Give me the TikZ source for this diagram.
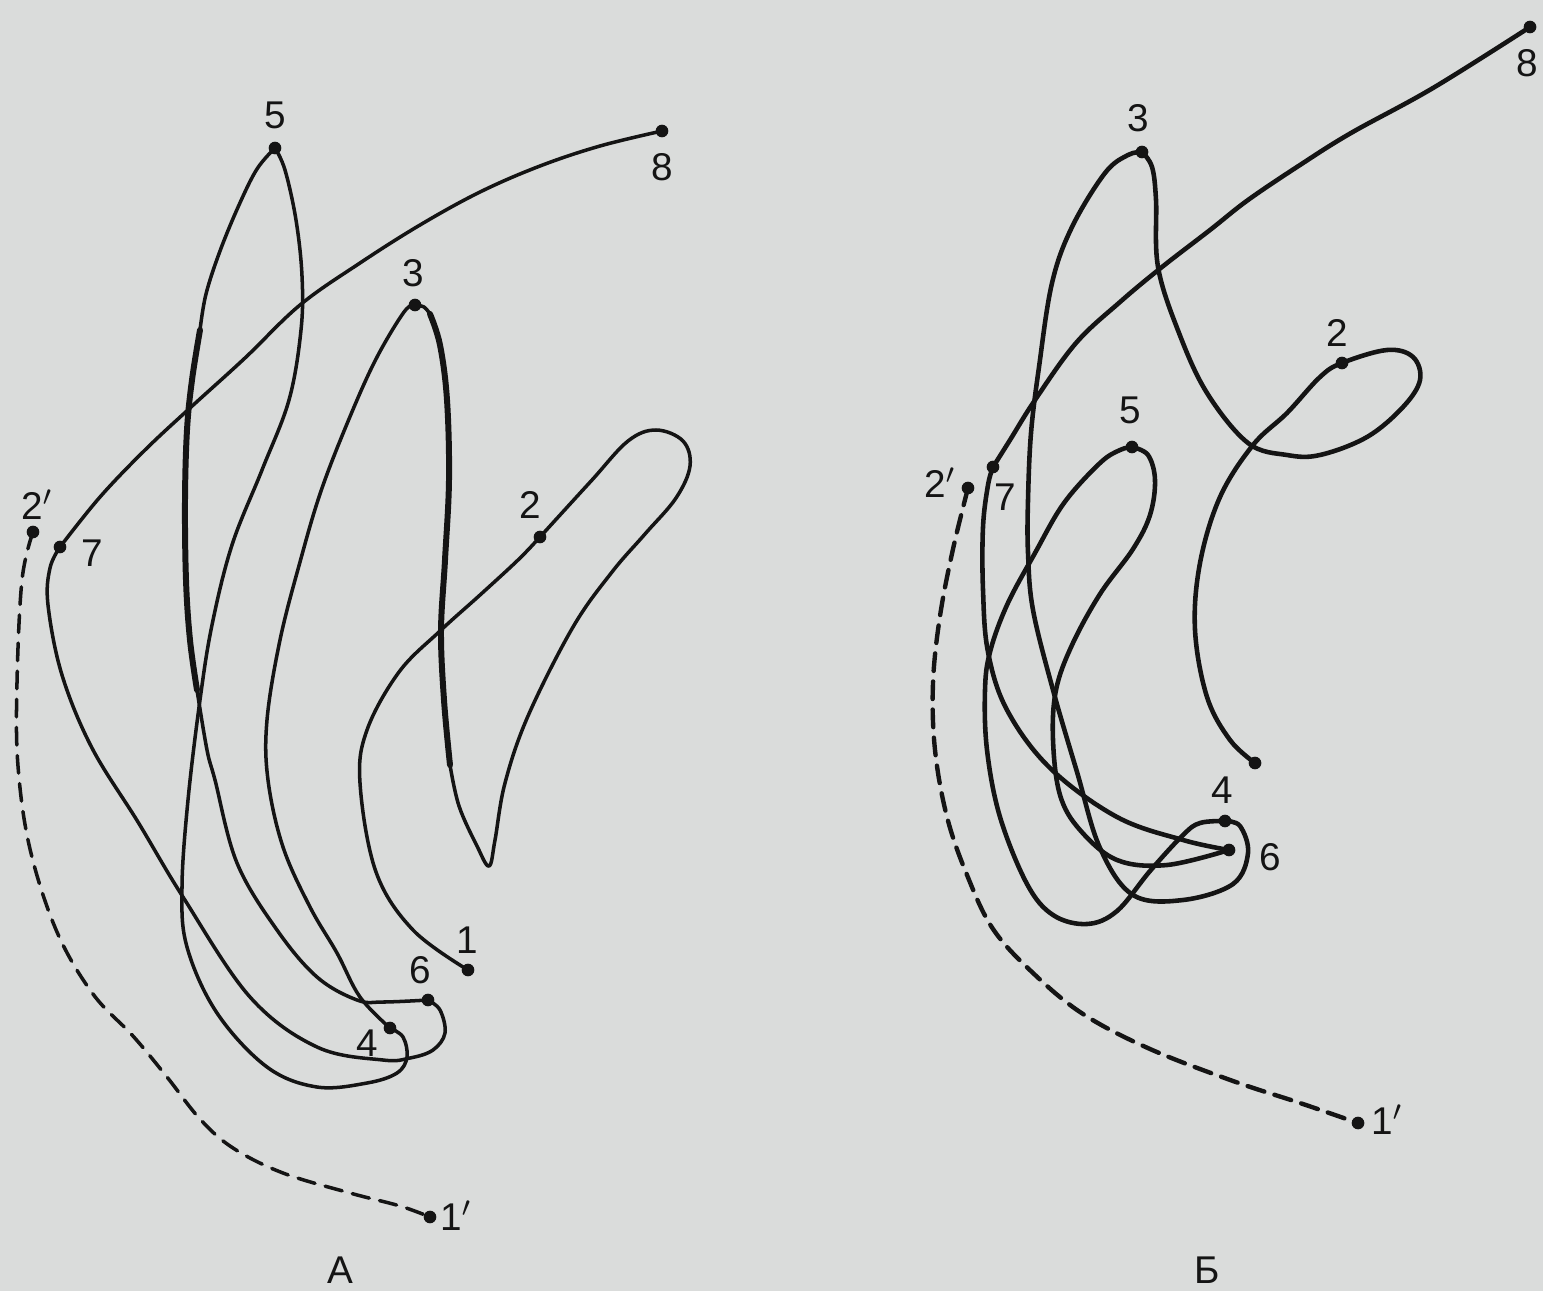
\documentclass[tikz,border=0pt]{standalone}
\usepackage{fontspec}
\setmainfont{Liberation Sans}
\usepackage{xcolor}
\usepackage{tikz}
\usetikzlibrary{positioning}
\definecolor{ink}{HTML}{141414}
\definecolor{paper}{HTML}{DADCDB}
\newcommand{\lblfont}{\fontsize{11}{13}\selectfont}
\tikzset{
  every node/.style={text=ink},
  % dots mark the numbered moments of the trajectory
  dot/.style={circle, fill=ink, inner sep=0pt, minimum size=3.6pt},
  lbl/.style={font=\lblfont, inner sep=0pt},
  trace/.style={line width=1pt, color=ink, line cap=round, line join=round},
  slow/.style={trace, line width=1.7pt},
  traceb/.style={trace, line width=1.3pt},
  prior/.style={trace, dash pattern=on 5pt off 3pt},
}

\begin{document}
\begin{tikzpicture}[x=0.01cm,y=-0.01cm, smooth, tension=0.6]
  \fill[paper] (0,0) rectangle (1543,1291);
  \useasboundingbox (0,0) rectangle (1543,1291);

  % ---------- panel A ----------
  \node[dot] (a1) at (468,970) {};
  \node[dot] (a2) at (540,537) {};
  \node[dot] (a3) at (415,305) {};
  \node[dot] (a4) at (390,1028) {};
  \node[dot] (a5) at (275,148) {};
  \node[dot] (a6) at (428,1000) {};
  \node[dot] (a7) at (60,547) {};
  \node[dot] (a8) at (662,131) {};
  \node[dot] (a2p) at (33,532) {};
  \node[dot] (a1p) at (430,1217) {};

  \node[lbl] (la1) at (467,940) {1};
  \node[lbl] (la2) at (530,505) {2};
  \node[lbl] (la3) at (413,273) {3};
  \node[lbl] (la4) at (367,1043) {4};
  \node[lbl] (la5) at (275,115) {5};
  \node[lbl] (la6) at (420,970) {6};
  \node[lbl] (la7) at (92,553) {7};
  \node[lbl] (la8) at (662,167) {8};
  \node[lbl] (la2p) at (37,505) {2$'$};
  \node[lbl] (la1p) at (456,1216) {1$'$};
  \node[lbl] (capA) at (340,1270) {А};

  % 1 -> 2 -> loop -> 3
  \draw[trace] plot coordinates {(a1.center) (413,930) (376,872) (360,783) (367,730) (399,672) (440,631)
    (480,595) (518,560) (a2.center) (550,526) (592,480) (628,441) (656,430) (683,441) (690,466) (676,498)
    (645,534) (612,572) (573,627) (528,716) (505,783) (495,840) (489,866) (477,846) (459,806) (450,765)};
  \draw[slow] plot coordinates {(450,765) (444,700) (441,631) (445,560) (449,480) (447,400) (440,345) (430,314)};
  \draw[trace] plot coordinates {(430,314) (424,307) (a3.center)};
  % 3 -> 4
  \draw[trace] plot coordinates {(a3.center) (404,312) (376,359) (349,419) (321,491) (300,562) (280,640)
    (267,720) (268,780) (283,847) (310,907) (337,953) (360,997) (a4.center)};
  % 4 -> 5
  \draw[trace] plot coordinates {(a4.center) (403,1037) (407,1057) (397,1073) (367,1083) (317,1087)
    (267,1067) (217,1013) (187,947) (182,887) (188,800) (200,700) (212,625) (232,545) (262,470)
    (289,400) (301,330) (302,276) (296,220) (285,170) (a5.center)};
  % 5 -> 6
  \draw[trace] plot coordinates {(a5.center) (257,169) (239,205) (220,251) (206,294) (200,330)};
  \draw[slow] plot coordinates {(200,330) (192,380) (187,430) (185,500) (186,580) (190,640) (197,690)};
  \draw[trace] plot coordinates {(197,690) (207,750) (215,780) (237,863) (277,930) (317,977) (357,1000)
    (383,1002) (a6.center)};
  % 6 -> 7
  \draw[trace] plot coordinates {(a6.center) (440,1010) (445,1033) (433,1050) (410,1058) (383,1060)
    (317,1047) (250,997) (183,897) (138,822) (92,748) (62,675) (48,605) (50,568) (a7.center)};
  % 7 -> 8
  \draw[trace] plot coordinates {(a7.center) (100,497) (145,450) (190,408) (245,358) (300,305) (360,263)
    (420,225) (480,192) (540,166) (600,146) (a8.center)};
  % 2' -> 1'
  \draw[prior] plot coordinates {(a2p.center) (22,580) (17,683) (18,766) (30,849) (57,932) (93,994)
    (133,1036) (167,1077) (200,1119) (233,1148) (283,1173) (350,1193) (400,1206) (a1p.center)};

  % ---------- panel B ----------
  \node[dot] (b1) at (1255,763) {};
  \node[dot] (b2) at (1342,363) {};
  \node[dot] (b3) at (1142,152) {};
  \node[dot] (b4) at (1225,821) {};
  \node[dot] (b5) at (1132,447) {};
  \node[dot] (b6) at (1229,850) {};
  \node[dot] (b7) at (993,467) {};
  \node[dot] (b8) at (1530,27) {};
  \node[dot] (b2p) at (968,488) {};
  \node[dot] (b1p) at (1358,1123) {};

  \node[lbl] (lb2) at (1337,333) {2};
  \node[lbl] (lb3) at (1138,118) {3};
  \node[lbl] (lb4) at (1222,790) {4};
  \node[lbl] (lb5) at (1130,410) {5};
  \node[lbl] (lb6) at (1270,857) {6};
  \node[lbl] (lb7) at (1005,497) {7};
  \node[lbl] (lb8) at (1527,63) {8};
  \node[lbl] (lb2p) at (940,483) {2$'$};
  \node[lbl] (lb1p) at (1387,1120) {1$'$};
  \node[lbl] (capB) at (1207,1270) {Б};

  % 1 -> 2 -> loop -> 3
  \draw[traceb] plot coordinates {(b1.center) (1230,740) (1207,697) (1195,630) (1200,563) (1220,497)
    (1253,445) (1287,413) (1320,377) (b2.center) (1387,350) (1413,357) (1420,380) (1403,407) (1367,437)
    (1320,455) (1287,455) (1248,443) (1207,393) (1179,333) (1158,267) (1156,200) (1152,167) (b3.center)};
  % 3 -> 4
  \draw[traceb] plot coordinates {(b3.center) (1128,155) (1105,173) (1072,227) (1052,283) (1039,367)
    (1031,433) (1028,500) (1028,553) (1033,610) (1053,690) (1077,772) (1100,848) (1133,895) (1183,900)
    (1233,884) (1248,853) (1240,826) (b4.center)};
  % 4 -> 5
  \draw[traceb] plot coordinates {(b4.center) (1200,823) (1183,835) (1150,871) (1117,911) (1087,924)
    (1053,915) (1027,884) (1000,817) (987,750) (985,690) (990,652) (1007,605) (1035,553) (1064,503)
    (1100,463) (1120,450) (b5.center)};
  % 5 -> 6
  \draw[traceb] plot coordinates {(b5.center) (1148,455) (1155,480) (1150,515) (1133,549) (1100,594)
    (1072,645) (1056,690) (1053,740) (1060,795) (1080,830) (1117,860) (1167,865) (b6.center)};
  % 6 -> 7
  \draw[traceb] plot coordinates {(b6.center) (1183,840) (1117,817) (1050,768) (1007,710) (988,652)
    (983,590) (983,527) (988,485) (b7.center)};
  % 7 -> 8
  \draw[traceb] plot coordinates {(b7.center) (1010,440) (1035,400) (1076,343) (1120,302) (1162,267)
    (1210,230) (1248,200) (1300,165) (1351,133) (1433,88) (b8.center)};
  % 2' -> 1'
  \draw[prior, line width=1.25pt] plot coordinates {(b2p.center) (953,549) (940,616) (933,683) (935,750)
    (947,817) (967,875) (993,929) (1033,973) (1083,1014) (1150,1049) (1233,1081) (1300,1103) (b1p.center)};
\end{tikzpicture}
\end{document}
